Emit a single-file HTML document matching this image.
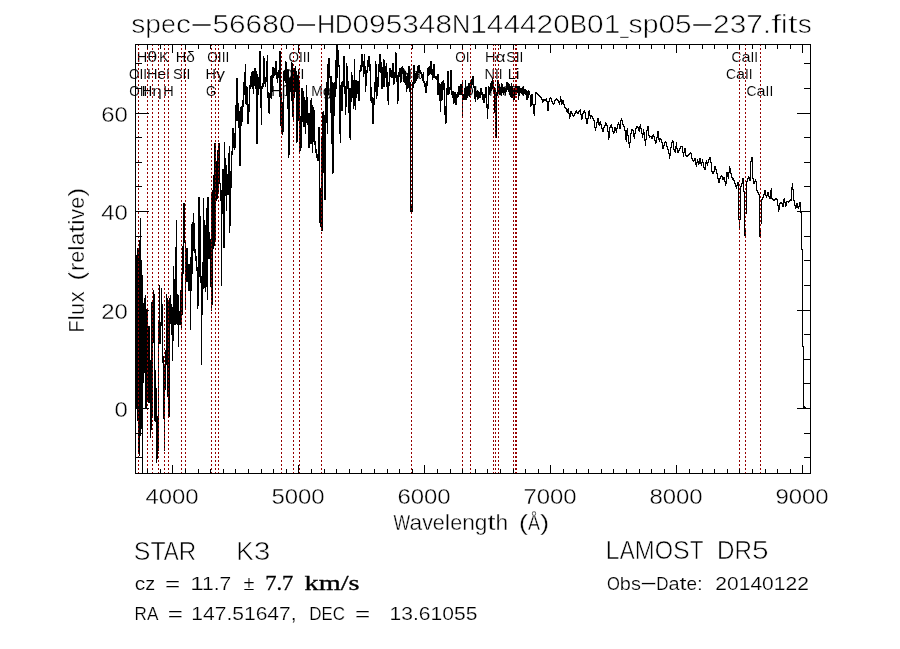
<!DOCTYPE html><html><head><meta charset="utf-8"><title>spec-56680-HD095348N144420B01_sp05-237.fits</title>
<style>
html,body{margin:0;padding:0;background:#fff;}
svg{display:block;}
text{font-family:"Liberation Sans",sans-serif;fill:#000;white-space:pre;}

text.s{font-family:"Liberation Serif",serif;stroke:#000;stroke-width:0.3px;}
text.l{stroke:none;}
.ax{stroke:#000;stroke-width:1;fill:none;shape-rendering:crispEdges;}
.rl{stroke:#960000;stroke-width:1;stroke-dasharray:2 2;shape-rendering:crispEdges;}
.sp{stroke:#000;stroke-width:1;fill:none;shape-rendering:crispEdges;stroke-linejoin:miter;}
</style></head><body>
<svg width="900" height="649" viewBox="0 0 900 649">
<rect width="900" height="649" fill="#fff"/>
<g><text class="l" y="79.0" font-size="14.6" style="stroke:#fff;stroke-width:0.10px"><tspan textLength="10.52" lengthAdjust="spacingAndGlyphs" x="128.9">O</tspan><tspan textLength="3.82" lengthAdjust="spacingAndGlyphs">I</tspan><tspan textLength="3.82" lengthAdjust="spacingAndGlyphs">I</tspan></text><text class="l" y="96.0" font-size="14.6" style="stroke:#fff;stroke-width:0.10px"><tspan textLength="10.52" lengthAdjust="spacingAndGlyphs" x="129.2">O</tspan><tspan textLength="3.82" lengthAdjust="spacingAndGlyphs">I</tspan><tspan textLength="3.82" lengthAdjust="spacingAndGlyphs">I</tspan></text><text class="l" y="62.0" font-size="14.6" style="stroke:#fff;stroke-width:0.10px"><tspan textLength="10.52" lengthAdjust="spacingAndGlyphs" x="136.8">H</tspan><tspan textLength="10.04" lengthAdjust="spacingAndGlyphs">θ</tspan></text><text class="l" y="96.0" font-size="14.6" style="stroke:#fff;stroke-width:0.10px"><tspan textLength="10.52" lengthAdjust="spacingAndGlyphs" x="141.7">H</tspan><tspan textLength="9.56" lengthAdjust="spacingAndGlyphs">η</tspan></text><text class="l" y="79.0" font-size="14.6" style="stroke:#fff;stroke-width:0.10px"><tspan textLength="10.52" lengthAdjust="spacingAndGlyphs" x="147.0">H</tspan><tspan textLength="8.60" lengthAdjust="spacingAndGlyphs">e</tspan><tspan textLength="3.82" lengthAdjust="spacingAndGlyphs">I</tspan></text><text class="l" y="62.0" font-size="14.6" style="stroke:#fff;stroke-width:0.10px"><tspan textLength="10.04" lengthAdjust="spacingAndGlyphs" x="159.1">K</tspan></text><text class="l" y="96.0" font-size="14.6" style="stroke:#fff;stroke-width:0.10px"><tspan textLength="10.52" lengthAdjust="spacingAndGlyphs" x="163.3">H</tspan></text><text class="l" y="79.0" font-size="14.6" style="stroke:#fff;stroke-width:0.10px"><tspan textLength="9.56" lengthAdjust="spacingAndGlyphs" x="173.0">S</tspan><tspan textLength="3.82" lengthAdjust="spacingAndGlyphs">I</tspan><tspan textLength="3.82" lengthAdjust="spacingAndGlyphs">I</tspan></text><text class="l" y="62.0" font-size="14.6" style="stroke:#fff;stroke-width:0.10px"><tspan textLength="10.52" lengthAdjust="spacingAndGlyphs" x="175.8">H</tspan><tspan textLength="8.60" lengthAdjust="spacingAndGlyphs">δ</tspan></text><text class="l" y="96.0" font-size="14.6" style="stroke:#fff;stroke-width:0.10px"><tspan textLength="10.04" lengthAdjust="spacingAndGlyphs" x="206.0">G</tspan></text><text class="l" y="79.0" font-size="14.6" style="stroke:#fff;stroke-width:0.10px"><tspan textLength="10.52" lengthAdjust="spacingAndGlyphs" x="205.6">H</tspan><tspan textLength="9.08" lengthAdjust="spacingAndGlyphs">γ</tspan></text><text class="l" y="62.0" font-size="14.6" style="stroke:#fff;stroke-width:0.10px"><tspan textLength="10.52" lengthAdjust="spacingAndGlyphs" x="207.3">O</tspan><tspan textLength="3.82" lengthAdjust="spacingAndGlyphs">I</tspan><tspan textLength="3.82" lengthAdjust="spacingAndGlyphs">I</tspan><tspan textLength="3.82" lengthAdjust="spacingAndGlyphs">I</tspan></text><text class="l" y="96.0" font-size="14.6" style="stroke:#fff;stroke-width:0.10px"><tspan textLength="10.52" lengthAdjust="spacingAndGlyphs" x="271.2">H</tspan><tspan textLength="9.08" lengthAdjust="spacingAndGlyphs">β</tspan></text><text class="l" y="79.0" font-size="14.6" style="stroke:#fff;stroke-width:0.10px"><tspan textLength="10.52" lengthAdjust="spacingAndGlyphs" x="282.3">O</tspan><tspan textLength="3.82" lengthAdjust="spacingAndGlyphs">I</tspan><tspan textLength="3.82" lengthAdjust="spacingAndGlyphs">I</tspan><tspan textLength="3.82" lengthAdjust="spacingAndGlyphs">I</tspan></text><text class="l" y="62.0" font-size="14.6" style="stroke:#fff;stroke-width:0.10px"><tspan textLength="10.52" lengthAdjust="spacingAndGlyphs" x="288.4">O</tspan><tspan textLength="3.82" lengthAdjust="spacingAndGlyphs">I</tspan><tspan textLength="3.82" lengthAdjust="spacingAndGlyphs">I</tspan><tspan textLength="3.82" lengthAdjust="spacingAndGlyphs">I</tspan></text><text class="l" y="96.0" font-size="14.6" style="stroke:#fff;stroke-width:0.10px"><tspan textLength="11.47" lengthAdjust="spacingAndGlyphs" x="311.3">M</tspan><tspan textLength="9.08" lengthAdjust="spacingAndGlyphs">g</tspan></text><text class="l" y="79.0" font-size="14.6" style="stroke:#fff;stroke-width:0.10px"><tspan textLength="10.52" lengthAdjust="spacingAndGlyphs" x="401.5">N</tspan><tspan textLength="9.08" lengthAdjust="spacingAndGlyphs">a</tspan></text><text class="l" y="62.0" font-size="14.6" style="stroke:#fff;stroke-width:0.10px"><tspan textLength="10.52" lengthAdjust="spacingAndGlyphs" x="455.2">O</tspan><tspan textLength="3.82" lengthAdjust="spacingAndGlyphs">I</tspan></text><text class="l" y="96.0" font-size="14.6" style="stroke:#fff;stroke-width:0.10px"><tspan textLength="10.52" lengthAdjust="spacingAndGlyphs" x="463.2">O</tspan><tspan textLength="3.82" lengthAdjust="spacingAndGlyphs">I</tspan></text><text class="l" y="79.0" font-size="14.6" style="stroke:#fff;stroke-width:0.10px"><tspan textLength="10.52" lengthAdjust="spacingAndGlyphs" x="484.5">N</tspan><tspan textLength="3.82" lengthAdjust="spacingAndGlyphs">I</tspan><tspan textLength="3.82" lengthAdjust="spacingAndGlyphs">I</tspan></text><text class="l" y="62.0" font-size="14.6" style="stroke:#fff;stroke-width:0.10px"><tspan textLength="10.52" lengthAdjust="spacingAndGlyphs" x="485.1">H</tspan><tspan textLength="10.04" lengthAdjust="spacingAndGlyphs">α</tspan></text><text class="l" y="96.0" font-size="14.6" style="stroke:#fff;stroke-width:0.10px"><tspan textLength="10.52" lengthAdjust="spacingAndGlyphs" x="488.9">N</tspan><tspan textLength="3.82" lengthAdjust="spacingAndGlyphs">I</tspan><tspan textLength="3.82" lengthAdjust="spacingAndGlyphs">I</tspan></text><text class="l" y="79.0" font-size="14.6" style="stroke:#fff;stroke-width:0.10px"><tspan textLength="8.13" lengthAdjust="spacingAndGlyphs" x="507.7">L</tspan><tspan textLength="3.82" lengthAdjust="spacingAndGlyphs">i</tspan></text><text class="l" y="62.0" font-size="14.6" style="stroke:#fff;stroke-width:0.10px"><tspan textLength="9.56" lengthAdjust="spacingAndGlyphs" x="506.2">S</tspan><tspan textLength="3.82" lengthAdjust="spacingAndGlyphs">I</tspan><tspan textLength="3.82" lengthAdjust="spacingAndGlyphs">I</tspan></text><text class="l" y="96.0" font-size="14.6" style="stroke:#fff;stroke-width:0.10px"><tspan textLength="9.56" lengthAdjust="spacingAndGlyphs" x="508.0">S</tspan><tspan textLength="3.82" lengthAdjust="spacingAndGlyphs">I</tspan><tspan textLength="3.82" lengthAdjust="spacingAndGlyphs">I</tspan></text><text class="l" y="79.0" font-size="14.6" style="stroke:#fff;stroke-width:0.10px"><tspan textLength="10.04" lengthAdjust="spacingAndGlyphs" x="725.9">C</tspan><tspan textLength="9.08" lengthAdjust="spacingAndGlyphs">a</tspan><tspan textLength="3.82" lengthAdjust="spacingAndGlyphs">I</tspan><tspan textLength="3.82" lengthAdjust="spacingAndGlyphs">I</tspan></text><text class="l" y="62.0" font-size="14.6" style="stroke:#fff;stroke-width:0.10px"><tspan textLength="10.04" lengthAdjust="spacingAndGlyphs" x="731.4">C</tspan><tspan textLength="9.08" lengthAdjust="spacingAndGlyphs">a</tspan><tspan textLength="3.82" lengthAdjust="spacingAndGlyphs">I</tspan><tspan textLength="3.82" lengthAdjust="spacingAndGlyphs">I</tspan></text><text class="l" y="96.0" font-size="14.6" style="stroke:#fff;stroke-width:0.10px"><tspan textLength="10.04" lengthAdjust="spacingAndGlyphs" x="746.5">C</tspan><tspan textLength="9.08" lengthAdjust="spacingAndGlyphs">a</tspan><tspan textLength="3.82" lengthAdjust="spacingAndGlyphs">I</tspan><tspan textLength="3.82" lengthAdjust="spacingAndGlyphs">I</tspan></text></g>
<path class="sp" d="M136.5 255V409M137.5 248V421M138.5 248V453M139.5 240V456M140.5 218V436M141.5 260V429M142.5 275V473M143.5 303V383M144.5 298V373M145.5 295V409M146.5 309V409M147.5 310V401M148.5 326V403M149.5 326V403M150.5 360V438M151.5 302V430M152.5 300V418M153.5 290V343M154.5 294V421M155.5 370V422M156.5 388V463M157.5 416V459M158.5 322V451M159.5 285V344M160.5 322V344M161.5 288V326M162.5 304V363M163.5 356V419M164.5 364V451M165.5 350V390M166.5 294V365M167.5 298V397M168.5 300V417M169.5 298V417M170.5 295V324M171.5 304V335M172.5 307V361M173.5 266V341M174.5 279V325M175.5 247V325M176.5 220V324M177.5 294V325M178.5 295V347M179.5 311V325M180.5 290V325M181.5 273V329M182.5 246V315M183.5 203V274M184.5 203V243M185.5 242V308M186.5 248V282M187.5 248V282M188.5 264V291M189.5 264V291M190.5 257V330M191.5 224V291M192.5 222V274M193.5 213V251M194.5 223V253M195.5 249V261M196.5 256V271M197.5 267V309M198.5 197V306M199.5 197V277M200.5 216V283M201.5 276V365M202.5 262V315M203.5 198V289M204.5 220V288M205.5 225V292M206.5 208V287M207.5 197V300M208.5 197V259M209.5 232V259M210.5 239V287M211.5 192V311M212.5 190V305M213.5 175V249M214.5 143V246M215.5 143V241M216.5 161V201M217.5 150V199M218.5 143V193M219.5 143V184M220.5 183V201M221.5 190V286M222.5 169V214M223.5 169V248M224.5 142V248M225.5 158V196M226.5 165V211M227.5 174V195M228.5 153V195M229.5 146V233M230.5 171V226M231.5 151V188M232.5 128V155M233.5 128V148M234.5 133V150M235.5 105V148M236.5 78V121M237.5 78V121M238.5 103V128M239.5 111V166M240.5 107V166M241.5 106V126M242.5 100V122M243.5 82V107M244.5 72V95M245.5 64V104M246.5 86V105M247.5 87V124M248.5 104V124M249.5 85V112M250.5 76V89M251.5 72V87M252.5 71V89M253.5 71V94M254.5 68V86M255.5 68V89M256.5 71V144M257.5 74V144M258.5 77V95M259.5 51V89M260.5 51V108M261.5 86V125M262.5 83V89M263.5 56V87M264.5 58V84M265.5 77V87M266.5 61V82M267.5 55V98M268.5 92V113M269.5 93V114M270.5 76V98M271.5 75V99M272.5 67V92M273.5 67V78M274.5 68V76M275.5 61V75M276.5 61V79M277.5 72V83M278.5 70V78M279.5 51V97M280.5 51V126M281.5 93V133M282.5 102V135M283.5 71V132M284.5 70V81M285.5 61V83M286.5 62V95M287.5 70V109M288.5 70V158M289.5 78V155M290.5 77V92M291.5 62V101M292.5 63V117M293.5 70V120M294.5 68V98M295.5 66V92M296.5 71V143M297.5 75V142M298.5 70V121M299.5 80V153M300.5 116V151M301.5 88V148M302.5 88V122M303.5 91V127M304.5 97V127M305.5 100V134M306.5 85V123M307.5 97V125M308.5 113V148M309.5 113V148M310.5 100V144M311.5 98V144M312.5 105V153M313.5 107V142M314.5 110V145M315.5 141V153M316.5 149V158M317.5 154V161M318.5 127V161M319.5 127V223M320.5 188V227M321.5 138V231M322.5 112V231M323.5 111V173M324.5 115V200M325.5 88V200M326.5 82V123M327.5 64V134M328.5 58V95M329.5 58V78M330.5 76V113M331.5 76V144M332.5 82V174M333.5 83V173M334.5 82V116M335.5 60V97M336.5 45V89M337.5 45V78M338.5 50V67M339.5 65V134M340.5 85V143M341.5 82V111M342.5 81V111M343.5 56V87M344.5 56V94M345.5 86V115M346.5 63V107M347.5 66V89M348.5 81V113M349.5 88V138M350.5 88V140M351.5 72V102M352.5 75V98M353.5 80V109M354.5 59V106M355.5 80V110M356.5 80V98M357.5 81V94M358.5 81V101M359.5 70V101M360.5 65V72M361.5 54V71M362.5 54V67M363.5 61V77M364.5 54V74M365.5 66V92M366.5 70V86M367.5 60V73M368.5 56V67M369.5 56V71M370.5 64V101M371.5 87V103M372.5 97V124M373.5 98V124M374.5 82V105M375.5 61V92M376.5 64V99M377.5 77V96M378.5 64V87M379.5 54V72M380.5 54V73M381.5 62V89M382.5 67V89M383.5 59V87M384.5 60V87M385.5 66V78M386.5 63V87M387.5 72V101M388.5 82V105M389.5 68V86M390.5 68V77M391.5 70V78M392.5 63V78M393.5 63V85M394.5 72V84M395.5 52V78M396.5 53V82M397.5 75V104M398.5 72V101M399.5 68V77M400.5 68V83M401.5 67V82M402.5 66V74M403.5 68V82M404.5 71V83M405.5 71V85M406.5 76V92M407.5 73V89M408.5 66V88M409.5 66V92M410.5 82V212M411.5 205V212M412.5 82V212M413.5 65V88M414.5 65V84M415.5 73V83M416.5 72V81M417.5 66V79M418.5 65V73M419.5 65V73M420.5 70V74M421.5 72V78M422.5 74V81M423.5 72V83M424.5 81V87M425.5 83V93M426.5 81V93M427.5 68V86M428.5 67V76M429.5 66V75M430.5 61V74M431.5 61V75M432.5 69V80M433.5 64V78M434.5 64V78M435.5 76V79M436.5 76V80M437.5 74V95M438.5 74V95M439.5 83V101M440.5 84V112M441.5 82V101M442.5 81V100M443.5 80V90M444.5 83V115M445.5 106V124M446.5 88V123M447.5 71V95M448.5 71V95M449.5 87V94M450.5 70V90M451.5 70V95M452.5 91V98M453.5 91V104M454.5 92V103M455.5 92V105M456.5 94V105M457.5 92V98M458.5 86V97M459.5 86V95M460.5 84V95M461.5 84V95M462.5 81V117M463.5 94V100M464.5 88V100M465.5 80V100M466.5 87V100M467.5 86V98M468.5 83V95M469.5 83V97M470.5 82V95M471.5 79V88M472.5 76V85M473.5 76V88M474.5 86V99M475.5 87V102M476.5 91V97M477.5 90V100M478.5 91V99M479.5 92V98M480.5 88V98M481.5 88V95M482.5 92V100M483.5 94V103M484.5 94V103M485.5 87V98M486.5 87V108M487.5 104V119M488.5 86V109M489.5 87V95M490.5 83V93M491.5 81V91M492.5 79V89M493.5 82V93M494.5 87V113M495.5 89V138M496.5 92V138M497.5 80V95M498.5 80V93M499.5 84V95M500.5 87V95M501.5 83V95M502.5 84V93M503.5 87V95M504.5 87V93M505.5 88V95M506.5 82V92M507.5 82V90M508.5 83V92M509.5 84V95M510.5 86V97M511.5 83V98M512.5 86V98M513.5 88V100M514.5 88V100M515.5 86V95M516.5 86V95M517.5 86V93M518.5 86V100M519.5 87V95M520.5 88V93M521.5 88V94M522.5 87V95M523.5 86V95M524.5 89V94M525.5 89V95M526.5 90V100M527.5 91V100M528.5 90V98M529.5 91V95M530.5 95V107M531.5 94V106M532.5 94V105M533.5 104V114M534.5 104V116M535.5 92V105M536.5 92V94M537.5 93V95M538.5 94V96M539.5 95V97M540.5 96V98M541.5 97V100M542.5 99V103M543.5 99V102M544.5 99V101M545.5 99V101M546.5 98V102M547.5 101V111M548.5 101V111M549.5 98V102M550.5 97V99M551.5 98V102M552.5 101V104M553.5 103V105M554.5 100V104M555.5 99V101M556.5 98V100M557.5 99V101M558.5 100V103M559.5 101V105M560.5 96V102M561.5 99V105M562.5 100V104M563.5 100V105M564.5 104V108M565.5 107V109M566.5 108V112M567.5 109V113M568.5 108V114M569.5 113V119M570.5 111V117M571.5 111V114M572.5 113V116M573.5 115V117M574.5 113V116M575.5 111V114M576.5 110V113M577.5 112V114M578.5 111V114M579.5 110V112M580.5 109V115M581.5 114V120M582.5 113V119M583.5 111V114M584.5 110V113M585.5 112V119M586.5 118V124M587.5 118V124M588.5 111V119M589.5 110V116M590.5 115V119M591.5 115V117M592.5 116V119M593.5 118V121M594.5 120V128M595.5 127V131M596.5 122V128M597.5 118V123M598.5 118V125M599.5 122V126M600.5 121V125M601.5 124V129M602.5 128V132M603.5 127V132M604.5 125V128M605.5 122V126M606.5 123V126M607.5 125V132M608.5 131V140M609.5 127V138M610.5 125V128M611.5 124V128M612.5 127V132M613.5 131V134M614.5 127V133M615.5 127V131M616.5 128V133M617.5 124V129M618.5 122V125M619.5 124V129M620.5 120V129M621.5 118V121M622.5 120V125M623.5 124V127M624.5 126V131M625.5 130V140M626.5 130V142M627.5 128V136M628.5 135V144M629.5 142V148M630.5 133V143M631.5 129V134M632.5 129V131M633.5 130V137M634.5 133V139M635.5 128V134M636.5 126V129M637.5 126V128M638.5 127V131M639.5 126V132M640.5 124V129M641.5 128V134M642.5 133V138M643.5 129V135M644.5 132V141M645.5 139V146M646.5 130V140M647.5 126V131M648.5 126V136M649.5 135V138M650.5 136V137M651.5 136V139M652.5 135V139M653.5 134V137M654.5 136V141M655.5 140V144M656.5 137V143M657.5 131V138M658.5 131V140M659.5 138V142M660.5 138V140M661.5 139V143M662.5 142V149M663.5 145V149M664.5 142V146M665.5 141V143M666.5 142V147M667.5 146V150M668.5 149V154M669.5 153V159M670.5 147V156M671.5 142V148M672.5 140V143M673.5 141V150M674.5 149V152M675.5 146V153M676.5 142V149M677.5 148V153M678.5 150V153M679.5 148V151M680.5 146V149M681.5 146V147M682.5 146V153M683.5 152V157M684.5 148V153M685.5 148V156M686.5 155V157M687.5 155V157M688.5 154V156M689.5 153V155M690.5 152V154M691.5 153V159M692.5 158V161M693.5 160V162M694.5 158V161M695.5 158V165M696.5 162V167M697.5 159V163M698.5 161V165M699.5 158V164M700.5 158V164M701.5 162V166M702.5 159V163M703.5 162V168M704.5 167V170M705.5 162V170M706.5 160V164M707.5 162V166M708.5 159V163M709.5 157V160M710.5 157V163M711.5 162V172M712.5 171V174M713.5 171V174M714.5 166V172M715.5 166V170M716.5 169V174M717.5 173V179M718.5 178V183M719.5 178V183M720.5 176V179M721.5 175V177M722.5 176V180M723.5 177V180M724.5 177V182M725.5 181V186M726.5 172V184M727.5 172V177M728.5 172V179M729.5 166V173M730.5 168V174M731.5 173V178M732.5 177V180M733.5 178V181M734.5 180V184M735.5 183V187M736.5 185V189M737.5 182V186M738.5 182V220M739.5 219V229M740.5 186V220M741.5 183V187M742.5 178V184M743.5 178V192M744.5 191V236M745.5 228V236M746.5 181V214M747.5 178V182M748.5 176V179M749.5 177V181M750.5 161V181M751.5 157V162M752.5 157V179M753.5 178V184M754.5 181V184M755.5 179V182M756.5 181V191M757.5 190V193M758.5 192V195M759.5 194V237M760.5 228V237M761.5 199V224M762.5 197V200M763.5 194V198M764.5 190V195M765.5 190V196M766.5 195V198M767.5 192V196M768.5 192V197M769.5 196V199M770.5 190V199M771.5 188V199M772.5 198V200M773.5 199V201M774.5 199V201M775.5 198V200M776.5 198V200M777.5 199V206M778.5 205V212M779.5 203V210M780.5 202V204M781.5 202V204M782.5 203V207M783.5 199V207M784.5 198V203M785.5 202V207M786.5 201V206M787.5 201V202M788.5 201V203M789.5 200V202M790.5 199V201M791.5 187V201M792.5 183V190M793.5 189V201M794.5 200V206M795.5 205V209M796.5 203V208M797.5 203V208M798.5 206V209M799.5 202V207M800.5 202V213M801.5 212V250M802.5 249V347M803.5 346V408M804.5 406V409M805.5 407V409"/>
<g><line class="rl" x1="138.5" y1="474" x2="138.5" y2="45"/><line class="rl" x1="138.5" y1="474" x2="138.5" y2="45"/><line class="rl" x1="147.5" y1="474" x2="147.5" y2="45"/><line class="rl" x1="152.5" y1="474" x2="152.5" y2="45"/><line class="rl" x1="158.5" y1="474" x2="158.5" y2="45"/><line class="rl" x1="164.5" y1="474" x2="164.5" y2="45"/><line class="rl" x1="168.5" y1="474" x2="168.5" y2="45"/><line class="rl" x1="181.5" y1="474" x2="181.5" y2="45"/><line class="rl" x1="185.5" y1="474" x2="185.5" y2="45"/><line class="rl" x1="211.5" y1="474" x2="211.5" y2="45"/><line class="rl" x1="215.5" y1="474" x2="215.5" y2="45"/><line class="rl" x1="218.5" y1="474" x2="218.5" y2="45"/><line class="rl" x1="281.5" y1="474" x2="281.5" y2="45"/><line class="rl" x1="293.5" y1="474" x2="293.5" y2="45"/><line class="rl" x1="299.5" y1="474" x2="299.5" y2="45"/><line class="rl" x1="321.5" y1="474" x2="321.5" y2="45"/><line class="rl" x1="411.5" y1="474" x2="411.5" y2="45"/><line class="rl" x1="462.5" y1="474" x2="462.5" y2="45"/><line class="rl" x1="470.5" y1="474" x2="470.5" y2="45"/><line class="rl" x1="493.5" y1="474" x2="493.5" y2="45"/><line class="rl" x1="495.5" y1="474" x2="495.5" y2="45"/><line class="rl" x1="498.5" y1="474" x2="498.5" y2="45"/><line class="rl" x1="513.5" y1="474" x2="513.5" y2="45"/><line class="rl" x1="515.5" y1="474" x2="515.5" y2="45"/><line class="rl" x1="516.5" y1="474" x2="516.5" y2="45"/><line class="rl" x1="739.5" y1="474" x2="739.5" y2="45"/><line class="rl" x1="745.5" y1="474" x2="745.5" y2="45"/><line class="rl" x1="760.5" y1="474" x2="760.5" y2="45"/></g>
<rect class="ax" x="135.5" y="44.5" width="675" height="429"/>
<g><line class="ax" x1="147.5" y1="473" x2="147.5" y2="469"/><line class="ax" x1="147.5" y1="45" x2="147.5" y2="49"/><line class="ax" x1="160.5" y1="473" x2="160.5" y2="469"/><line class="ax" x1="160.5" y1="45" x2="160.5" y2="49"/><line class="ax" x1="172.5" y1="473" x2="172.5" y2="465"/><line class="ax" x1="172.5" y1="45" x2="172.5" y2="53"/><line class="ax" x1="185.5" y1="473" x2="185.5" y2="469"/><line class="ax" x1="185.5" y1="45" x2="185.5" y2="49"/><line class="ax" x1="198.5" y1="473" x2="198.5" y2="469"/><line class="ax" x1="198.5" y1="45" x2="198.5" y2="49"/><line class="ax" x1="210.5" y1="473" x2="210.5" y2="469"/><line class="ax" x1="210.5" y1="45" x2="210.5" y2="49"/><line class="ax" x1="223.5" y1="473" x2="223.5" y2="469"/><line class="ax" x1="223.5" y1="45" x2="223.5" y2="49"/><line class="ax" x1="235.5" y1="473" x2="235.5" y2="469"/><line class="ax" x1="235.5" y1="45" x2="235.5" y2="49"/><line class="ax" x1="248.5" y1="473" x2="248.5" y2="469"/><line class="ax" x1="248.5" y1="45" x2="248.5" y2="49"/><line class="ax" x1="261.5" y1="473" x2="261.5" y2="469"/><line class="ax" x1="261.5" y1="45" x2="261.5" y2="49"/><line class="ax" x1="273.5" y1="473" x2="273.5" y2="469"/><line class="ax" x1="273.5" y1="45" x2="273.5" y2="49"/><line class="ax" x1="286.5" y1="473" x2="286.5" y2="469"/><line class="ax" x1="286.5" y1="45" x2="286.5" y2="49"/><line class="ax" x1="298.5" y1="473" x2="298.5" y2="465"/><line class="ax" x1="298.5" y1="45" x2="298.5" y2="53"/><line class="ax" x1="311.5" y1="473" x2="311.5" y2="469"/><line class="ax" x1="311.5" y1="45" x2="311.5" y2="49"/><line class="ax" x1="324.5" y1="473" x2="324.5" y2="469"/><line class="ax" x1="324.5" y1="45" x2="324.5" y2="49"/><line class="ax" x1="336.5" y1="473" x2="336.5" y2="469"/><line class="ax" x1="336.5" y1="45" x2="336.5" y2="49"/><line class="ax" x1="349.5" y1="473" x2="349.5" y2="469"/><line class="ax" x1="349.5" y1="45" x2="349.5" y2="49"/><line class="ax" x1="361.5" y1="473" x2="361.5" y2="469"/><line class="ax" x1="361.5" y1="45" x2="361.5" y2="49"/><line class="ax" x1="374.5" y1="473" x2="374.5" y2="469"/><line class="ax" x1="374.5" y1="45" x2="374.5" y2="49"/><line class="ax" x1="387.5" y1="473" x2="387.5" y2="469"/><line class="ax" x1="387.5" y1="45" x2="387.5" y2="49"/><line class="ax" x1="399.5" y1="473" x2="399.5" y2="469"/><line class="ax" x1="399.5" y1="45" x2="399.5" y2="49"/><line class="ax" x1="412.5" y1="473" x2="412.5" y2="469"/><line class="ax" x1="412.5" y1="45" x2="412.5" y2="49"/><line class="ax" x1="424.5" y1="473" x2="424.5" y2="465"/><line class="ax" x1="424.5" y1="45" x2="424.5" y2="53"/><line class="ax" x1="437.5" y1="473" x2="437.5" y2="469"/><line class="ax" x1="437.5" y1="45" x2="437.5" y2="49"/><line class="ax" x1="450.5" y1="473" x2="450.5" y2="469"/><line class="ax" x1="450.5" y1="45" x2="450.5" y2="49"/><line class="ax" x1="462.5" y1="473" x2="462.5" y2="469"/><line class="ax" x1="462.5" y1="45" x2="462.5" y2="49"/><line class="ax" x1="475.5" y1="473" x2="475.5" y2="469"/><line class="ax" x1="475.5" y1="45" x2="475.5" y2="49"/><line class="ax" x1="487.5" y1="473" x2="487.5" y2="469"/><line class="ax" x1="487.5" y1="45" x2="487.5" y2="49"/><line class="ax" x1="500.5" y1="473" x2="500.5" y2="469"/><line class="ax" x1="500.5" y1="45" x2="500.5" y2="49"/><line class="ax" x1="513.5" y1="473" x2="513.5" y2="469"/><line class="ax" x1="513.5" y1="45" x2="513.5" y2="49"/><line class="ax" x1="525.5" y1="473" x2="525.5" y2="469"/><line class="ax" x1="525.5" y1="45" x2="525.5" y2="49"/><line class="ax" x1="538.5" y1="473" x2="538.5" y2="469"/><line class="ax" x1="538.5" y1="45" x2="538.5" y2="49"/><line class="ax" x1="550.5" y1="473" x2="550.5" y2="465"/><line class="ax" x1="550.5" y1="45" x2="550.5" y2="53"/><line class="ax" x1="563.5" y1="473" x2="563.5" y2="469"/><line class="ax" x1="563.5" y1="45" x2="563.5" y2="49"/><line class="ax" x1="576.5" y1="473" x2="576.5" y2="469"/><line class="ax" x1="576.5" y1="45" x2="576.5" y2="49"/><line class="ax" x1="588.5" y1="473" x2="588.5" y2="469"/><line class="ax" x1="588.5" y1="45" x2="588.5" y2="49"/><line class="ax" x1="601.5" y1="473" x2="601.5" y2="469"/><line class="ax" x1="601.5" y1="45" x2="601.5" y2="49"/><line class="ax" x1="613.5" y1="473" x2="613.5" y2="469"/><line class="ax" x1="613.5" y1="45" x2="613.5" y2="49"/><line class="ax" x1="626.5" y1="473" x2="626.5" y2="469"/><line class="ax" x1="626.5" y1="45" x2="626.5" y2="49"/><line class="ax" x1="639.5" y1="473" x2="639.5" y2="469"/><line class="ax" x1="639.5" y1="45" x2="639.5" y2="49"/><line class="ax" x1="651.5" y1="473" x2="651.5" y2="469"/><line class="ax" x1="651.5" y1="45" x2="651.5" y2="49"/><line class="ax" x1="664.5" y1="473" x2="664.5" y2="469"/><line class="ax" x1="664.5" y1="45" x2="664.5" y2="49"/><line class="ax" x1="676.5" y1="473" x2="676.5" y2="465"/><line class="ax" x1="676.5" y1="45" x2="676.5" y2="53"/><line class="ax" x1="689.5" y1="473" x2="689.5" y2="469"/><line class="ax" x1="689.5" y1="45" x2="689.5" y2="49"/><line class="ax" x1="702.5" y1="473" x2="702.5" y2="469"/><line class="ax" x1="702.5" y1="45" x2="702.5" y2="49"/><line class="ax" x1="714.5" y1="473" x2="714.5" y2="469"/><line class="ax" x1="714.5" y1="45" x2="714.5" y2="49"/><line class="ax" x1="727.5" y1="473" x2="727.5" y2="469"/><line class="ax" x1="727.5" y1="45" x2="727.5" y2="49"/><line class="ax" x1="739.5" y1="473" x2="739.5" y2="469"/><line class="ax" x1="739.5" y1="45" x2="739.5" y2="49"/><line class="ax" x1="752.5" y1="473" x2="752.5" y2="469"/><line class="ax" x1="752.5" y1="45" x2="752.5" y2="49"/><line class="ax" x1="765.5" y1="473" x2="765.5" y2="469"/><line class="ax" x1="765.5" y1="45" x2="765.5" y2="49"/><line class="ax" x1="777.5" y1="473" x2="777.5" y2="469"/><line class="ax" x1="777.5" y1="45" x2="777.5" y2="49"/><line class="ax" x1="790.5" y1="473" x2="790.5" y2="469"/><line class="ax" x1="790.5" y1="45" x2="790.5" y2="49"/><line class="ax" x1="802.5" y1="473" x2="802.5" y2="465"/><line class="ax" x1="802.5" y1="45" x2="802.5" y2="53"/><line class="ax" x1="136" y1="457.5" x2="142" y2="457.5"/><line class="ax" x1="810" y1="457.5" x2="804" y2="457.5"/><line class="ax" x1="136" y1="433.5" x2="142" y2="433.5"/><line class="ax" x1="810" y1="433.5" x2="804" y2="433.5"/><line class="ax" x1="136" y1="408.5" x2="149" y2="408.5"/><line class="ax" x1="810" y1="408.5" x2="797" y2="408.5"/><line class="ax" x1="136" y1="383.5" x2="142" y2="383.5"/><line class="ax" x1="810" y1="383.5" x2="804" y2="383.5"/><line class="ax" x1="136" y1="359.5" x2="142" y2="359.5"/><line class="ax" x1="810" y1="359.5" x2="804" y2="359.5"/><line class="ax" x1="136" y1="334.5" x2="142" y2="334.5"/><line class="ax" x1="810" y1="334.5" x2="804" y2="334.5"/><line class="ax" x1="136" y1="310.5" x2="149" y2="310.5"/><line class="ax" x1="810" y1="310.5" x2="797" y2="310.5"/><line class="ax" x1="136" y1="285.5" x2="142" y2="285.5"/><line class="ax" x1="810" y1="285.5" x2="804" y2="285.5"/><line class="ax" x1="136" y1="260.5" x2="142" y2="260.5"/><line class="ax" x1="810" y1="260.5" x2="804" y2="260.5"/><line class="ax" x1="136" y1="236.5" x2="142" y2="236.5"/><line class="ax" x1="810" y1="236.5" x2="804" y2="236.5"/><line class="ax" x1="136" y1="211.5" x2="149" y2="211.5"/><line class="ax" x1="810" y1="211.5" x2="797" y2="211.5"/><line class="ax" x1="136" y1="186.5" x2="142" y2="186.5"/><line class="ax" x1="810" y1="186.5" x2="804" y2="186.5"/><line class="ax" x1="136" y1="162.5" x2="142" y2="162.5"/><line class="ax" x1="810" y1="162.5" x2="804" y2="162.5"/><line class="ax" x1="136" y1="137.5" x2="142" y2="137.5"/><line class="ax" x1="810" y1="137.5" x2="804" y2="137.5"/><line class="ax" x1="136" y1="113.5" x2="149" y2="113.5"/><line class="ax" x1="810" y1="113.5" x2="797" y2="113.5"/><line class="ax" x1="136" y1="88.5" x2="142" y2="88.5"/><line class="ax" x1="810" y1="88.5" x2="804" y2="88.5"/><line class="ax" x1="136" y1="63.5" x2="142" y2="63.5"/><line class="ax" x1="810" y1="63.5" x2="804" y2="63.5"/></g>
<text class="t" y="504.0" font-size="21.4" style="stroke:#fff;stroke-width:0.35px"><tspan textLength="13.32" lengthAdjust="spacingAndGlyphs" x="145.4">4</tspan><tspan textLength="13.32" lengthAdjust="spacingAndGlyphs">0</tspan><tspan textLength="13.32" lengthAdjust="spacingAndGlyphs">0</tspan><tspan textLength="13.32" lengthAdjust="spacingAndGlyphs">0</tspan></text>
<text class="t" y="504.0" font-size="21.4" style="stroke:#fff;stroke-width:0.35px"><tspan textLength="13.32" lengthAdjust="spacingAndGlyphs" x="271.4">5</tspan><tspan textLength="13.32" lengthAdjust="spacingAndGlyphs">0</tspan><tspan textLength="13.32" lengthAdjust="spacingAndGlyphs">0</tspan><tspan textLength="13.32" lengthAdjust="spacingAndGlyphs">0</tspan></text>
<text class="t" y="504.0" font-size="21.4" style="stroke:#fff;stroke-width:0.35px"><tspan textLength="13.32" lengthAdjust="spacingAndGlyphs" x="397.4">6</tspan><tspan textLength="13.32" lengthAdjust="spacingAndGlyphs">0</tspan><tspan textLength="13.32" lengthAdjust="spacingAndGlyphs">0</tspan><tspan textLength="13.32" lengthAdjust="spacingAndGlyphs">0</tspan></text>
<text class="t" y="504.0" font-size="21.4" style="stroke:#fff;stroke-width:0.35px"><tspan textLength="13.32" lengthAdjust="spacingAndGlyphs" x="523.4">7</tspan><tspan textLength="13.32" lengthAdjust="spacingAndGlyphs">0</tspan><tspan textLength="13.32" lengthAdjust="spacingAndGlyphs">0</tspan><tspan textLength="13.32" lengthAdjust="spacingAndGlyphs">0</tspan></text>
<text class="t" y="504.0" font-size="21.4" style="stroke:#fff;stroke-width:0.35px"><tspan textLength="13.32" lengthAdjust="spacingAndGlyphs" x="649.4">8</tspan><tspan textLength="13.32" lengthAdjust="spacingAndGlyphs">0</tspan><tspan textLength="13.32" lengthAdjust="spacingAndGlyphs">0</tspan><tspan textLength="13.32" lengthAdjust="spacingAndGlyphs">0</tspan></text>
<text class="t" y="504.0" font-size="21.4" style="stroke:#fff;stroke-width:0.35px"><tspan textLength="13.32" lengthAdjust="spacingAndGlyphs" x="775.4">9</tspan><tspan textLength="13.32" lengthAdjust="spacingAndGlyphs">0</tspan><tspan textLength="13.32" lengthAdjust="spacingAndGlyphs">0</tspan><tspan textLength="13.32" lengthAdjust="spacingAndGlyphs">0</tspan></text>
<text class="t" y="417.0" font-size="21.4" style="stroke:#fff;stroke-width:0.35px"><tspan textLength="13.32" lengthAdjust="spacingAndGlyphs" x="114.5">0</tspan></text>
<text class="t" y="318.5" font-size="21.4" style="stroke:#fff;stroke-width:0.35px"><tspan textLength="13.32" lengthAdjust="spacingAndGlyphs" x="101.2">2</tspan><tspan textLength="13.32" lengthAdjust="spacingAndGlyphs">0</tspan></text>
<text class="t" y="220.0" font-size="21.4" style="stroke:#fff;stroke-width:0.35px"><tspan textLength="13.32" lengthAdjust="spacingAndGlyphs" x="101.2">4</tspan><tspan textLength="13.32" lengthAdjust="spacingAndGlyphs">0</tspan></text>
<text class="t" y="121.5" font-size="21.4" style="stroke:#fff;stroke-width:0.35px"><tspan textLength="13.32" lengthAdjust="spacingAndGlyphs" x="101.2">6</tspan><tspan textLength="13.32" lengthAdjust="spacingAndGlyphs">0</tspan></text>
<text class="t" y="530.0" font-size="21.4" style="stroke:#fff;stroke-width:0.35px"><tspan textLength="15.98" lengthAdjust="spacingAndGlyphs" x="393.6">W</tspan><tspan textLength="12.65" lengthAdjust="spacingAndGlyphs">a</tspan><tspan textLength="10.66" lengthAdjust="spacingAndGlyphs">v</tspan><tspan textLength="11.99" lengthAdjust="spacingAndGlyphs">e</tspan><tspan textLength="5.33" lengthAdjust="spacingAndGlyphs">l</tspan><tspan textLength="11.99" lengthAdjust="spacingAndGlyphs">e</tspan><tspan textLength="12.65" lengthAdjust="spacingAndGlyphs">n</tspan><tspan textLength="12.65" lengthAdjust="spacingAndGlyphs">g</tspan><tspan textLength="7.99" lengthAdjust="spacingAndGlyphs">t</tspan><tspan textLength="12.65" lengthAdjust="spacingAndGlyphs">h</tspan><tspan textLength="10.66" lengthAdjust="spacingAndGlyphs"> </tspan><tspan textLength="9.32" lengthAdjust="spacingAndGlyphs">(</tspan><tspan textLength="11.99" lengthAdjust="spacingAndGlyphs">Å</tspan><tspan textLength="9.32" lengthAdjust="spacingAndGlyphs">)</tspan></text>
<g transform="translate(83.5,260) rotate(-90)"><text class="t" y="0.0" font-size="21.4" style="stroke:#fff;stroke-width:0.35px"><tspan textLength="11.99" lengthAdjust="spacingAndGlyphs" x="-72.6">F</tspan><tspan textLength="5.33" lengthAdjust="spacingAndGlyphs">l</tspan><tspan textLength="12.65" lengthAdjust="spacingAndGlyphs">u</tspan><tspan textLength="11.32" lengthAdjust="spacingAndGlyphs">x</tspan><tspan textLength="10.66" lengthAdjust="spacingAndGlyphs"> </tspan><tspan textLength="9.32" lengthAdjust="spacingAndGlyphs">(</tspan><tspan textLength="8.66" lengthAdjust="spacingAndGlyphs">r</tspan><tspan textLength="11.99" lengthAdjust="spacingAndGlyphs">e</tspan><tspan textLength="5.33" lengthAdjust="spacingAndGlyphs">l</tspan><tspan textLength="12.65" lengthAdjust="spacingAndGlyphs">a</tspan><tspan textLength="7.99" lengthAdjust="spacingAndGlyphs">t</tspan><tspan textLength="5.33" lengthAdjust="spacingAndGlyphs">i</tspan><tspan textLength="10.66" lengthAdjust="spacingAndGlyphs">v</tspan><tspan textLength="11.99" lengthAdjust="spacingAndGlyphs">e</tspan><tspan textLength="9.32" lengthAdjust="spacingAndGlyphs">)</tspan></text></g>
<text class="t" y="33.0" font-size="26.4" style="stroke:#fff;stroke-width:0.60px"><tspan textLength="14.09" lengthAdjust="spacingAndGlyphs" x="131.2">s</tspan><tspan textLength="15.75" lengthAdjust="spacingAndGlyphs">p</tspan><tspan textLength="14.92" lengthAdjust="spacingAndGlyphs">e</tspan><tspan textLength="14.92" lengthAdjust="spacingAndGlyphs">c</tspan><tspan textLength="27.19" lengthAdjust="spacingAndGlyphs" dy="-0.79" dx="-2.82">-</tspan><tspan textLength="16.58" lengthAdjust="spacingAndGlyphs" dy="0.79" dx="-2.82">5</tspan><tspan textLength="16.58" lengthAdjust="spacingAndGlyphs">6</tspan><tspan textLength="16.58" lengthAdjust="spacingAndGlyphs">6</tspan><tspan textLength="16.58" lengthAdjust="spacingAndGlyphs">8</tspan><tspan textLength="16.58" lengthAdjust="spacingAndGlyphs">0</tspan><tspan textLength="27.19" lengthAdjust="spacingAndGlyphs" dy="-0.79" dx="-2.82">-</tspan><tspan textLength="18.24" lengthAdjust="spacingAndGlyphs" dy="0.79" dx="-2.82">H</tspan><tspan textLength="17.41" lengthAdjust="spacingAndGlyphs">D</tspan><tspan textLength="16.58" lengthAdjust="spacingAndGlyphs">0</tspan><tspan textLength="16.58" lengthAdjust="spacingAndGlyphs">9</tspan><tspan textLength="16.58" lengthAdjust="spacingAndGlyphs">5</tspan><tspan textLength="16.58" lengthAdjust="spacingAndGlyphs">3</tspan><tspan textLength="16.58" lengthAdjust="spacingAndGlyphs">4</tspan><tspan textLength="16.58" lengthAdjust="spacingAndGlyphs">8</tspan><tspan textLength="18.24" lengthAdjust="spacingAndGlyphs">N</tspan><tspan textLength="16.58" lengthAdjust="spacingAndGlyphs">1</tspan><tspan textLength="16.58" lengthAdjust="spacingAndGlyphs">4</tspan><tspan textLength="16.58" lengthAdjust="spacingAndGlyphs">4</tspan><tspan textLength="16.58" lengthAdjust="spacingAndGlyphs">4</tspan><tspan textLength="16.58" lengthAdjust="spacingAndGlyphs">2</tspan><tspan textLength="16.58" lengthAdjust="spacingAndGlyphs">0</tspan><tspan textLength="17.41" lengthAdjust="spacingAndGlyphs">B</tspan><tspan textLength="16.58" lengthAdjust="spacingAndGlyphs">0</tspan><tspan textLength="16.58" lengthAdjust="spacingAndGlyphs">1</tspan><tspan textLength="8.29" lengthAdjust="spacingAndGlyphs">_</tspan><tspan textLength="14.09" lengthAdjust="spacingAndGlyphs">s</tspan><tspan textLength="15.75" lengthAdjust="spacingAndGlyphs">p</tspan><tspan textLength="16.58" lengthAdjust="spacingAndGlyphs">0</tspan><tspan textLength="16.58" lengthAdjust="spacingAndGlyphs">5</tspan><tspan textLength="27.19" lengthAdjust="spacingAndGlyphs" dy="-0.79" dx="-2.82">-</tspan><tspan textLength="16.58" lengthAdjust="spacingAndGlyphs" dy="0.79" dx="-2.82">2</tspan><tspan textLength="16.58" lengthAdjust="spacingAndGlyphs">3</tspan><tspan textLength="16.58" lengthAdjust="spacingAndGlyphs">7</tspan><tspan textLength="8.29" lengthAdjust="spacingAndGlyphs">.</tspan><tspan textLength="9.95" lengthAdjust="spacingAndGlyphs">f</tspan><tspan textLength="6.63" lengthAdjust="spacingAndGlyphs">i</tspan><tspan textLength="9.95" lengthAdjust="spacingAndGlyphs">t</tspan><tspan textLength="14.09" lengthAdjust="spacingAndGlyphs">s</tspan></text>
<text class="t" y="559.7" font-size="26.4" style="stroke:#fff;stroke-width:0.60px"><tspan textLength="16.64" lengthAdjust="spacingAndGlyphs" x="133.8">S</tspan><tspan textLength="13.31" lengthAdjust="spacingAndGlyphs">T</tspan><tspan textLength="14.98" lengthAdjust="spacingAndGlyphs">A</tspan><tspan textLength="17.47" lengthAdjust="spacingAndGlyphs">R</tspan><tspan textLength="13.31" lengthAdjust="spacingAndGlyphs"> </tspan><tspan textLength="13.31" lengthAdjust="spacingAndGlyphs"> </tspan><tspan textLength="13.31" lengthAdjust="spacingAndGlyphs"> </tspan><tspan textLength="17.47" lengthAdjust="spacingAndGlyphs" x="236.3">K</tspan><tspan textLength="16.64" lengthAdjust="spacingAndGlyphs">3</tspan></text>
<text class="t" y="559.4" font-size="26.4" style="stroke:#fff;stroke-width:0.60px"><tspan textLength="14.14" lengthAdjust="spacingAndGlyphs" x="605.6">L</tspan><tspan textLength="14.98" lengthAdjust="spacingAndGlyphs">A</tspan><tspan textLength="19.97" lengthAdjust="spacingAndGlyphs">M</tspan><tspan textLength="18.30" lengthAdjust="spacingAndGlyphs">O</tspan><tspan textLength="16.64" lengthAdjust="spacingAndGlyphs">S</tspan><tspan textLength="13.31" lengthAdjust="spacingAndGlyphs">T</tspan><tspan textLength="13.31" lengthAdjust="spacingAndGlyphs"> </tspan><tspan textLength="17.47" lengthAdjust="spacingAndGlyphs" x="717.0">D</tspan><tspan textLength="17.47" lengthAdjust="spacingAndGlyphs">R</tspan><tspan textLength="16.64" lengthAdjust="spacingAndGlyphs">5</tspan></text>
<text class="t" y="589.8" font-size="19.0" style="stroke:#fff;stroke-width:0.20px"><tspan textLength="10.53" lengthAdjust="spacingAndGlyphs" x="134.8">c</tspan><tspan textLength="9.95" lengthAdjust="spacingAndGlyphs">z</tspan><tspan textLength="9.36" lengthAdjust="spacingAndGlyphs"> </tspan><tspan textLength="15.21" lengthAdjust="spacingAndGlyphs" x="165.0">=</tspan><tspan textLength="9.36" lengthAdjust="spacingAndGlyphs"> </tspan><tspan textLength="11.70" lengthAdjust="spacingAndGlyphs" x="190.3">1</tspan><tspan textLength="11.70" lengthAdjust="spacingAndGlyphs">1</tspan><tspan textLength="5.85" lengthAdjust="spacingAndGlyphs">.</tspan><tspan textLength="11.70" lengthAdjust="spacingAndGlyphs">7</tspan><tspan textLength="9.36" lengthAdjust="spacingAndGlyphs"> </tspan></text>
<text class="t" y="589.6" font-size="19.0" style="stroke:#fff;stroke-width:0.20px"><tspan textLength="12.87" lengthAdjust="spacingAndGlyphs" x="607.0">O</tspan><tspan textLength="11.11" lengthAdjust="spacingAndGlyphs">b</tspan><tspan textLength="9.95" lengthAdjust="spacingAndGlyphs">s</tspan><tspan textLength="19.19" lengthAdjust="spacingAndGlyphs" dy="-0.57" dx="-1.99">-</tspan><tspan textLength="12.29" lengthAdjust="spacingAndGlyphs" dy="0.57" dx="-1.99">D</tspan><tspan textLength="11.11" lengthAdjust="spacingAndGlyphs">a</tspan><tspan textLength="7.02" lengthAdjust="spacingAndGlyphs">t</tspan><tspan textLength="10.53" lengthAdjust="spacingAndGlyphs">e</tspan><tspan textLength="5.85" lengthAdjust="spacingAndGlyphs">:</tspan><tspan textLength="9.36" lengthAdjust="spacingAndGlyphs"> </tspan><tspan textLength="11.70" lengthAdjust="spacingAndGlyphs" x="715.3">2</tspan><tspan textLength="11.70" lengthAdjust="spacingAndGlyphs">0</tspan><tspan textLength="11.70" lengthAdjust="spacingAndGlyphs">1</tspan><tspan textLength="11.70" lengthAdjust="spacingAndGlyphs">4</tspan><tspan textLength="11.70" lengthAdjust="spacingAndGlyphs">0</tspan><tspan textLength="11.70" lengthAdjust="spacingAndGlyphs">1</tspan><tspan textLength="11.70" lengthAdjust="spacingAndGlyphs">2</tspan><tspan textLength="11.70" lengthAdjust="spacingAndGlyphs">2</tspan></text>
<text class="t" y="619.8" font-size="19.0" style="stroke:#fff;stroke-width:0.20px"><tspan textLength="12.29" lengthAdjust="spacingAndGlyphs" x="134.6">R</tspan><tspan textLength="10.53" lengthAdjust="spacingAndGlyphs">A</tspan><tspan textLength="9.36" lengthAdjust="spacingAndGlyphs"> </tspan><tspan textLength="15.21" lengthAdjust="spacingAndGlyphs" x="167.8">=</tspan><tspan textLength="9.36" lengthAdjust="spacingAndGlyphs"> </tspan><tspan textLength="11.70" lengthAdjust="spacingAndGlyphs" x="191.3">1</tspan><tspan textLength="11.70" lengthAdjust="spacingAndGlyphs">4</tspan><tspan textLength="11.70" lengthAdjust="spacingAndGlyphs">7</tspan><tspan textLength="5.85" lengthAdjust="spacingAndGlyphs">.</tspan><tspan textLength="11.70" lengthAdjust="spacingAndGlyphs">5</tspan><tspan textLength="11.70" lengthAdjust="spacingAndGlyphs">1</tspan><tspan textLength="11.70" lengthAdjust="spacingAndGlyphs">6</tspan><tspan textLength="11.70" lengthAdjust="spacingAndGlyphs">4</tspan><tspan textLength="11.70" lengthAdjust="spacingAndGlyphs">7</tspan><tspan textLength="5.85" lengthAdjust="spacingAndGlyphs">,</tspan><tspan textLength="9.36" lengthAdjust="spacingAndGlyphs"> </tspan><tspan textLength="12.29" lengthAdjust="spacingAndGlyphs" x="309.3">D</tspan><tspan textLength="11.11" lengthAdjust="spacingAndGlyphs">E</tspan><tspan textLength="12.29" lengthAdjust="spacingAndGlyphs">C</tspan><tspan textLength="9.36" lengthAdjust="spacingAndGlyphs"> </tspan><tspan textLength="15.21" lengthAdjust="spacingAndGlyphs" x="355.0">=</tspan><tspan textLength="9.36" lengthAdjust="spacingAndGlyphs"> </tspan><tspan textLength="9.36" lengthAdjust="spacingAndGlyphs"> </tspan><tspan textLength="11.70" lengthAdjust="spacingAndGlyphs" x="389.6">1</tspan><tspan textLength="11.70" lengthAdjust="spacingAndGlyphs">3</tspan><tspan textLength="5.85" lengthAdjust="spacingAndGlyphs">.</tspan><tspan textLength="11.70" lengthAdjust="spacingAndGlyphs">6</tspan><tspan textLength="11.70" lengthAdjust="spacingAndGlyphs">1</tspan><tspan textLength="11.70" lengthAdjust="spacingAndGlyphs">0</tspan><tspan textLength="11.70" lengthAdjust="spacingAndGlyphs">5</tspan><tspan textLength="11.70" lengthAdjust="spacingAndGlyphs">5</tspan></text>
<text class="s" y="590" font-size="20"><tspan x="243.5" style="stroke-width:0">± </tspan><tspan x="265.3" textLength="28" lengthAdjust="spacingAndGlyphs">7.7</tspan> <tspan x="304.5" textLength="55" lengthAdjust="spacingAndGlyphs">km/s</tspan></text>
</svg></body></html>
